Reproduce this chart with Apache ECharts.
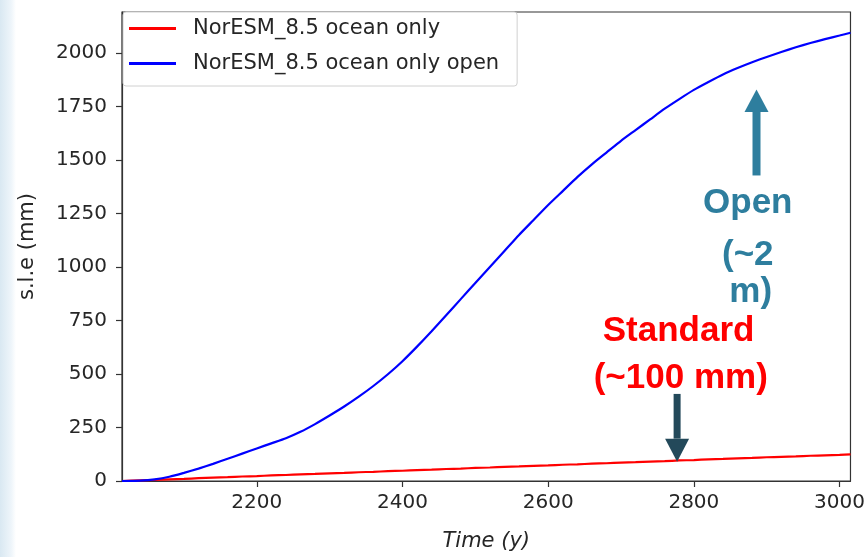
<!DOCTYPE html>
<html>
<head>
<meta charset="utf-8">
<script src="https://cdn.jsdelivr.net/npm/echarts@6/dist/echarts.min.js"></script>
<style>
html,body{margin:0;padding:0;background:#fff;}
#chart{width:868px;height:557px;}
</style>
</head>
<body>
<div id="chart"></div>
<script>
// ---- data ----
const years = [2015,2040,2060,2080,2100,2120,2140,2160,2180,2200,2220,2240,2260,2280,2300,2320,2340,2360,2380,2400,2420,2440,2460,2480,2500,2520,2540,2560,2580,2600,2620,2640,2660,2680,2700,2720,2740,2760,2780,2800,2820,2840,2860,2880,2900,2920,2940,2960,2980,3000,3015];
const oceanOnly = [0,3,5,8,10,13,16,18,21,23,26,28,31,33,36,38,41,43,46,48,51,53,56,58,61,63,66,68,71,73,76,78,81,83,86,88,91,93,96,98,101,103,106,108,111,113,115,118,120,122,124];
const oceanOnlyOpen = [0,2,8,20,38,58,80,104,128,152,176,200,230,266,306,348,394,444,499,560,628,700,775,850,925,1000,1075,1150,1220,1290,1355,1420,1480,1535,1590,1640,1690,1740,1785,1828,1865,1900,1930,1957,1982,2005,2027,2047,2065,2082,2095];
const seriesNames = ['NorESM_8.5 ocean only','NorESM_8.5 ocean only open'];
const xTicks = [2200,2400,2600,2800,3000];
const yTicks = [0,250,500,750,1000,1250,1500,1750,2000];
const xName = 'Time (y)';
const yName = 's.l.e (mm)';
// annotation anchors in data units [year, mm]
const openLabel = ['Open','(~2','m)'];
const openLabelPos = [[2874,1296],[2874,1055],[2878,883]];
const stdLabel = ['Standard','(~100 mm)'];
const stdLabelPos = [[2779,699],[2782,479]];
const openArrow = {x:2886, tail:1428, headBase:1725, tip:1830};
const stdArrow = {x:2777, tail:407, headBase:198, tip:90};

const chart = echarts.init(document.getElementById('chart'), null, {renderer:'canvas'});
const tickFont = 'DejaVu Sans';
const axisColor = '#333';
const textColor = '#262626';
const plain = v => String(v);

const option = {
  backgroundColor:'#fff',
  animation:false,
  grid:{left:122, top:12, width:730, height:472, show:true, borderColor:axisColor, borderWidth:1.2, containLabel:false},
  legend:{
    orient:'vertical', left:123, top:12,
    backgroundColor:'#fff', borderColor:'#d0d0d0', borderWidth:1, borderRadius:3,
    padding:[6,18,12,6], itemGap:14, itemWidth:47, itemHeight:3,
    icon:'rect',
    textStyle:{fontFamily:tickFont, fontSize:21, color:textColor, padding:[0,0,0,12]},
    data:seriesNames
  },
  xAxis:{
    type:'value', min:2015, max:3015,
    name:xName, nameLocation:'middle', nameGap:50,
    nameTextStyle:{fontFamily:tickFont, fontSize:21, fontStyle:'italic', color:textColor},
    axisLine:{show:true, onZero:false, lineStyle:{color:axisColor, width:1.2}},
    axisTick:{show:true, length:6, customValues:xTicks, lineStyle:{color:axisColor, width:1.2}},
    axisLabel:{customValues:xTicks, formatter:plain, margin:12, fontFamily:tickFont, fontSize:20, color:textColor},
    splitLine:{show:false}
  },
  yAxis:{
    type:'value', min:0, max:2192,
    name:yName, nameLocation:'middle', nameGap:84,
    nameTextStyle:{fontFamily:tickFont, fontSize:21, color:textColor},
    axisLine:{show:true, lineStyle:{color:axisColor, width:1.2}},
    axisTick:{show:true, length:6, customValues:yTicks, lineStyle:{color:axisColor, width:1.2}},
    axisLabel:{customValues:yTicks, formatter:plain, margin:15, fontFamily:tickFont, fontSize:20, color:textColor},
    splitLine:{show:false}
  },
  series:[
    {name:seriesNames[0], type:'line', data:years.map((y,i)=>[y,oceanOnly[i]]), showSymbol:false, smooth:0.2,
     lineStyle:{color:'#ff0000', width:2.2}, itemStyle:{color:'#ff0000'}, z:3},
    {name:seriesNames[1], type:'line', data:years.map((y,i)=>[y,oceanOnlyOpen[i]]), showSymbol:false, smooth:0.2,
     lineStyle:{color:'#0000ff', width:2.2}, itemStyle:{color:'#0000ff'}, z:4}
  ]
};
chart.setOption(option);

function px(p){ return chart.convertToPixel({gridIndex:0}, p); }
function arrow(a, color, shaftW, headW){
  const tail = px([a.x, a.tail]), base = px([a.x, a.headBase]), tip = px([a.x, a.tip]);
  const x = tail[0];
  return [
    {type:'rect', shape:{x:x-shaftW/2, y:Math.min(tail[1],base[1]), width:shaftW, height:Math.abs(tail[1]-base[1])}, style:{fill:color}, z:10},
    {type:'polygon', shape:{points:[[x-headW/2, base[1]],[x+headW/2, base[1]],[x, tip[1]]]}, style:{fill:color}, z:10}
  ];
}
function labels(lines, pos, color){
  return lines.map((t,i)=>{
    const p = px(pos[i]);
    return {type:'text', x:p[0], y:p[1], z:10,
      style:{text:t, fill:color, font:'bold 35px "Liberation Sans", Arial, sans-serif', align:'center', verticalAlign:'middle'}};
  });
}
const openColor = '#2e7e9e';
const stdArrowColor = '#23495a';
const graphics = [
  {type:'rect', left:0, top:0, shape:{width:16, height:557}, z:-1,
   style:{fill:new echarts.graphic.LinearGradient(0,0,1,0,[{offset:0,color:'#d9e8f2'},{offset:0.7,color:'#eef5fa'},{offset:1,color:'#ffffff'}])}},
  ...arrow(openArrow, openColor, 8, 24),
  ...arrow(stdArrow, stdArrowColor, 7, 24),
  ...labels(openLabel, openLabelPos, openColor),
  ...labels(stdLabel, stdLabelPos, '#ff0000')
];
chart.setOption({graphic:graphics});
</script>
</body>
</html>
